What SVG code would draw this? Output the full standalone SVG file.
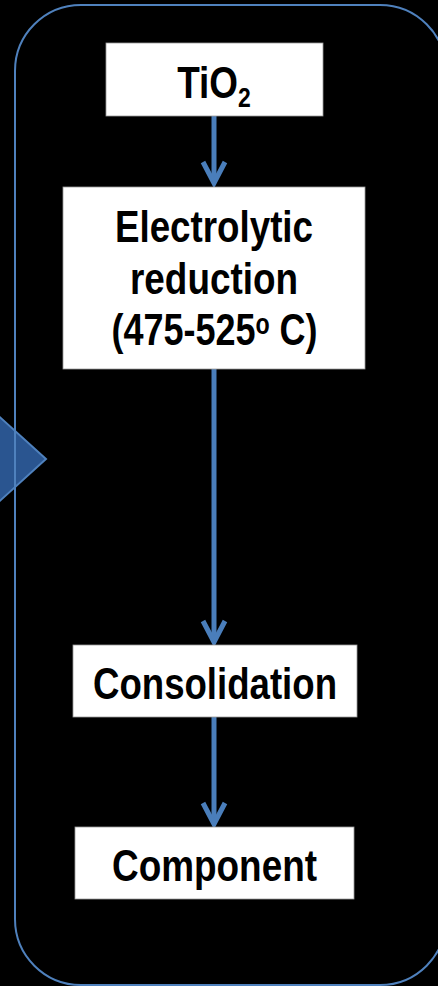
<svg xmlns="http://www.w3.org/2000/svg" width="438" height="986" viewBox="0 0 438 986">
<style>
.box{fill:#ffffff;stroke:#9a9a9a;stroke-width:0.8}
.t{font-family:"Liberation Sans Narrow","Liberation Sans",Arial,sans-serif;font-weight:bold;font-size:45px;fill:#000000;text-anchor:middle}
.c{fill:none;stroke:#4a7ebb;stroke-width:5}
.h{fill:none;stroke:#4a7ebb;stroke-width:5;stroke-linejoin:miter;stroke-linecap:butt}
</style>
<rect x="0" y="0" width="438" height="986" fill="#000000"/>
<polygon id="chevron" points="-30,390 46,459 -30,528" fill="#2a5590" stroke="#4f81bd" stroke-width="2"/>
<rect id="frame" x="15" y="5" width="431" height="980" rx="66" ry="66" fill="none" stroke="#4f81bd" stroke-width="2"/>
<g id="connectors">
<line class="c" x1="214" y1="116" x2="214" y2="183"/>
<polyline class="h" points="203,162 214,183 225,162"/>
<line class="c" x1="214" y1="369" x2="214" y2="642"/>
<polyline class="h" points="203,621 214,642 225,621"/>
<line class="c" x1="214" y1="717" x2="214" y2="824"/>
<polyline class="h" points="203,803 214,824 225,803"/>
</g>
<g id="n-tio2">
<rect class="box" x="106" y="43" width="217" height="73"/>
<text class="t" transform="translate(214 98) scale(0.82 1)" x="0" y="0">TiO<tspan font-size="28" dy="9">2</tspan></text>
</g>
<g id="n-electro">
<rect class="box" x="63" y="187" width="302" height="182"/>
<text class="t" x="214" y="242" textLength="198" lengthAdjust="spacingAndGlyphs">Electrolytic</text>
<text class="t" x="214" y="294" textLength="168" lengthAdjust="spacingAndGlyphs">reduction</text>
<text class="t" transform="translate(214.5 345) scale(0.8 1)" x="0" y="0">(475-525<tspan font-size="29" dy="-11">o</tspan><tspan dy="11"> C)</tspan></text>
</g>
<g id="n-consol">
<rect class="box" x="73" y="645" width="284" height="72"/>
<text class="t" x="215" y="699" textLength="244" lengthAdjust="spacingAndGlyphs">Consolidation</text>
</g>
<g id="n-comp">
<rect class="box" x="75" y="827" width="279" height="72"/>
<text class="t" x="214.5" y="881" textLength="205" lengthAdjust="spacingAndGlyphs">Component</text>
</g>
</svg>
